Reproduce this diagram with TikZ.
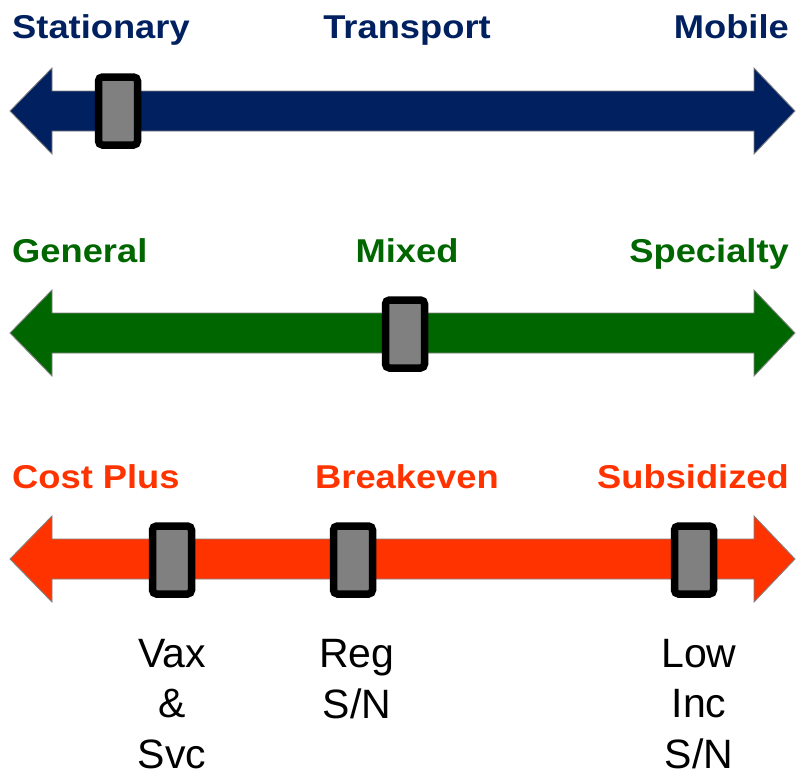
\documentclass[tikz,border=0pt]{standalone}
\usepackage{fontspec}
\setmainfont{Liberation Sans}
\newfontfamily\titlefont[FakeStretch=1.1]{Liberation Sans}
\definecolor{navyband}{RGB}{0,32,96}
\definecolor{greenband}{RGB}{0,102,0}
\definecolor{redband}{RGB}{255,51,0}
\definecolor{bandedge}{RGB}{128,128,128}
\tikzset{
  band/.style={draw=bandedge, line width=0.9pt},
  slider/.style={draw=black, fill=gray, line width=7.5pt, rounded corners=4pt,
    minimum width=39pt, minimum height=68pt, inner sep=0pt},
  title/.style={font=\titlefont\bfseries\fontsize{33}{40}\selectfont, inner sep=0pt},
  tag/.style={font=\fontsize{41}{50.5}\selectfont, align=center, inner sep=0pt},
}
\begin{document}
\begin{tikzpicture}[x=1pt, y=-1pt]
  \useasboundingbox (0,0) rectangle (796,772);
  % the three bands
  \foreach \yc/\col in {111/navyband, 333/greenband, 559/redband}
    \draw[band, fill=\col] (10,\yc) -- ++(42,-43) -- ++(0,23) -- ++(702,0) -- ++(0,-23)
      -- ++(41,43) -- ++(-41,43) -- ++(0,-23) -- ++(-702,0) -- ++(0,23) -- cycle;
  % sliders
  \node[slider] (stationarymark) at (118,111) {};
  \node[slider] (mixedmark) at (405,334) {};
  \node[slider] (vaxmark) at (172,560) {};
  \node[slider] (regmark) at (353,560) {};
  \node[slider] (lowmark) at (694,560) {};
  % titles
  \node[title, text=navyband, anchor=base west] (stationary) at (12,38) {Stationary};
  \node[title, text=navyband, anchor=base] (transport) at (407,38) {Transport};
  \node[title, text=navyband, anchor=base east] (mobile) at (789,38) {Mobile};
  \node[title, text=greenband, anchor=base west] (general) at (12,262) {General};
  \node[title, text=greenband, anchor=base] (mixed) at (407,262) {Mixed};
  \node[title, text=greenband, anchor=base east] (specialty) at (789,262) {Specialty};
  \node[title, text=redband, anchor=base west] (costplus) at (12,488) {Cost Plus};
  \node[title, text=redband, anchor=base] (breakeven) at (407,488) {Breakeven};
  \node[title, text=redband, anchor=base east] (subsidized) at (789,488) {Subsidized};
  % programs (base = last line)
  \node[tag, anchor=base] (vax) at (172,768) {Vax\\\&\\Svc};
  \node[tag, anchor=base] (reg) at (357,718) {Reg\\S/N};
  \node[tag, anchor=base] (low) at (699,768) {Low\\Inc\\S/N};
\end{tikzpicture}
\end{document}
